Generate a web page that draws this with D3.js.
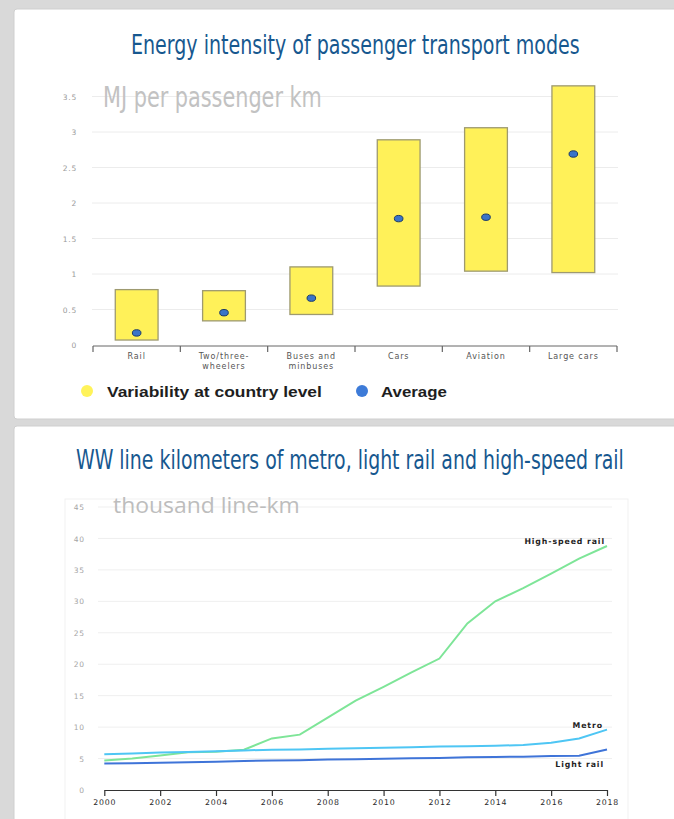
<!DOCTYPE html>
<html><head><meta charset="utf-8">
<script src="https://cdn.jsdelivr.net/npm/d3@7"></script>
<style>body{margin:0;background:#fff}svg{display:block}</style>
</head><body><svg id="c" width="674" height="819"></svg>
<script>
// ---------- data: chart 1 ----------
const modes = ["Rail","Two/three-wheelers","Buses and minbuses","Cars","Aviation","Large cars"];
const modeLabels = [["Rail"],["Two/three-","wheelers"],["Buses and","minbuses"],["Cars"],["Aviation"],["Large cars"]];
const rangeLow  = [0.07, 0.34, 0.43, 0.83, 1.04, 1.02];
const rangeHigh = [0.78, 0.765, 1.10, 2.89, 3.06, 3.65];
const average   = [0.17, 0.455, 0.66, 1.78, 1.80, 2.69];
const energyTicks = [0, 0.5, 1, 1.5, 2, 2.5, 3, 3.5];
const energyTickLabels = ["0","0.5","1","1.5","2","2.5","3","3.5"];
// ---------- data: chart 2 ----------
const years = [2000,2001,2002,2003,2004,2005,2006,2007,2008,2009,2010,2011,2012,2013,2014,2015,2016,2017,2018];
const highSpeed = [4.7,5.0,5.5,6.0,6.1,6.4,8.2,8.8,11.5,14.2,16.4,18.7,20.9,26.5,30.0,32.1,34.4,36.8,38.8];
const metro     = [5.7,5.8,5.95,6.05,6.15,6.3,6.4,6.45,6.55,6.65,6.7,6.8,6.9,6.95,7.05,7.15,7.5,8.2,9.6];
const lightRail = [4.2,4.27,4.35,4.4,4.5,4.6,4.7,4.75,4.85,4.9,4.95,5.05,5.1,5.2,5.25,5.3,5.4,5.45,6.45];
const yearTicks = [2000,2002,2004,2006,2008,2010,2012,2014,2016,2018];
const kmTicks = [0,5,10,15,20,25,30,35,40,45];
const seriesNames = ["High-speed rail","Metro","Light rail"];

const svg = d3.select("#c");
// background panels
svg.append("rect").attr("width",674).attr("height",819).attr("fill","#d9d9d9");
svg.append("rect").attr("x",14).attr("y",9).attr("width",670).attr("height",410).attr("rx",3)
  .attr("fill","#fff").attr("stroke","#cfcfcf");
svg.append("rect").attr("x",14).attr("y",426).attr("width",670).attr("height",400).attr("rx",3)
  .attr("fill","#fff").attr("stroke","#cfcfcf");

const narrow = "'Liberation Sans Narrow','Arial Narrow','DejaVu Sans Condensed',sans-serif";
const small = "'DejaVu Sans',sans-serif";

// text stretched horizontally to a given width via a transform
function fitText(parent, x, y, target, anchor, str, attrs){
  const g = parent.append("g");
  const t = g.append("text").attr("x",0).attr("y",0).text(str);
  Object.entries(attrs).forEach(([k,v])=>t.attr(k,v));
  const w = t.node().getComputedTextLength();
  const sx = target / w;
  const x0 = anchor==="middle" ? x - target/2 : x;
  g.attr("transform",`translate(${x0},${y}) scale(${sx},1)`);
  return t;
}

// ================= Chart 1 =================
const g1 = svg.append("g");
fitText(g1, 355.5, 54, 449, "middle", "Energy intensity of passenger transport modes",
  {"font-family":narrow,"font-size":26.5,"fill":"#17588f"});

const x1 = d3.scaleBand().domain(modes).range([93,617]).paddingInner(0).paddingOuter(0);
const y1 = d3.scaleLinear().domain([0,3.5]).range([345,96.5]);

// grid
g1.selectAll(".g1grid").data(energyTicks.filter(d=>d>0)).join("line")
  .attr("x1",92).attr("x2",618).attr("y1",d=>y1(d)).attr("y2",d=>y1(d))
  .attr("stroke","#ececec").attr("stroke-width",1);

// unit label
fitText(g1, 103, 106.5, 219, "start", "MJ per passenger km",
  {"font-family":narrow,"font-size":27.5,"fill":"#c2c2c2"});

// y axis labels
const ay1 = d3.axisLeft(y1).tickValues(energyTicks).tickFormat((d,i)=>energyTickLabels[i]).tickSize(0).tickPadding(0);
const gy1 = g1.append("g").attr("transform","translate(77,0)").call(ay1);
gy1.select(".domain").remove();
gy1.selectAll("text").attr("font-family",small).attr("font-size",7.5).attr("fill","#9a9a9a")
  .attr("letter-spacing",0.8).attr("dy","0.35em");

// x axis
const ax1 = d3.axisBottom(x1).tickSize(0).tickFormat("");
const gx1 = g1.append("g").attr("transform","translate(0,346)").call(ax1);
gx1.select(".domain").attr("stroke","#666").attr("d","M93,0H617");
const edges = modes.map(m=>x1(m)).concat([x1.range()[1]]);
g1.selectAll(".tk").data(edges).join("line")
  .attr("x1",d=>d).attr("x2",d=>d).attr("y1",346).attr("y2",352)
  .attr("stroke","#666").attr("stroke-width",1.2);
modes.forEach((m,i)=>{
  const t = g1.append("text").attr("text-anchor","middle")
    .attr("font-family",small).attr("font-size",8).attr("fill","#555").attr("letter-spacing",0.9);
  modeLabels[i].forEach((l,j)=>{
    t.append("tspan").attr("x",x1(m)+x1.bandwidth()/2).attr("y",359+j*9.5).text(l);
  });
});

// bars
const bw = x1.bandwidth()*0.49;
g1.selectAll(".bar").data(modes).join("rect")
  .attr("x",d=>x1(d)+x1.bandwidth()/2-bw/2)
  .attr("width",bw)
  .attr("y",(d,i)=>y1(rangeHigh[i]))
  .attr("height",(d,i)=>y1(rangeLow[i])-y1(rangeHigh[i]))
  .attr("fill","#fff159").attr("stroke","#9e9a70").attr("stroke-width",1.3);
// averages
g1.selectAll(".avg").data(modes).join("ellipse")
  .attr("cx",d=>x1(d)+x1.bandwidth()/2)
  .attr("cy",(d,i)=>y1(average[i]))
  .attr("rx",4.3).attr("ry",3.2)
  .attr("fill","#3a74c8").attr("stroke","#1c3a66").attr("stroke-width",1);

// legend
const lg = g1.append("g");
lg.append("circle").attr("cx",87).attr("cy",391).attr("r",6).attr("fill","#fff35a");
fitText(lg, 107, 396.5, 215, "start", "Variability at country level",
  {"font-family":"'Liberation Sans',Arial,sans-serif","font-weight":"bold","font-size":15,"fill":"#1e1e1e"});
lg.append("circle").attr("cx",362).attr("cy",391).attr("r",6).attr("fill","#3d7bd8");
fitText(lg, 381, 396.5, 66, "start", "Average",
  {"font-family":"'Liberation Sans',Arial,sans-serif","font-weight":"bold","font-size":15,"fill":"#1e1e1e"});

// ================= Chart 2 =================
const g2 = svg.append("g");
fitText(g2, 350, 469, 548, "middle", "WW line kilometers of metro, light rail and high-speed rail",
  {"font-family":narrow,"font-size":26.5,"fill":"#17588f"});

// faint plot box
g2.append("rect").attr("x",65).attr("y",499).attr("width",563).attr("height",330)
  .attr("fill","none").attr("stroke","#f1f1f1");

const x2 = d3.scaleLinear().domain([2000,2018]).range([104.3,607]);
const y2 = d3.scaleLinear().domain([0,45]).range([790,507]);

g2.selectAll(".g2grid").data(kmTicks.filter(d=>d>0)).join("line")
  .attr("x1",98).attr("x2",612).attr("y1",d=>y2(d)).attr("y2",d=>y2(d))
  .attr("stroke","#efefef").attr("stroke-width",1);

fitText(g2, 113, 512.5, 187, "start", "thousand line-km",
  {"font-family":"'Open Sans',sans-serif","font-size":21,"fill":"#bdbdbd"});

const ay2 = d3.axisLeft(y2).tickValues(kmTicks).tickFormat(d3.format("d")).tickSize(0).tickPadding(0);
const gy2 = g2.append("g").attr("transform","translate(85,0)").call(ay2);
gy2.select(".domain").remove();
gy2.selectAll("text").attr("font-family",small).attr("font-size",7.5).attr("fill","#a5a5a5")
  .attr("letter-spacing",0.9).attr("dy","0.35em");

const ax2 = d3.axisBottom(x2).tickValues(yearTicks).tickFormat(d3.format("d")).tickSize(6).tickSizeOuter(0).tickPadding(3);
const gx2 = g2.append("g").attr("transform","translate(0,790)").call(ax2);
gx2.select(".domain").attr("stroke","#333").attr("stroke-width",1.1);
gx2.selectAll(".tick line").attr("stroke","#333").attr("stroke-width",1.2);
gx2.selectAll("text").attr("font-family",small).attr("font-size",7.8).attr("fill","#2a2a2a")
  .attr("letter-spacing",0.8);

const line = d3.line().x((d,i)=>x2(years[i])).y(d=>y2(d));
const seriesData = [highSpeed, metro, lightRail];
const seriesColors = ["#7ee598","#4ec6f4","#3f74d8"];
g2.selectAll(".ln").data(seriesData).join("path")
  .attr("d",d=>line(d)).attr("fill","none")
  .attr("stroke",(d,i)=>seriesColors[i]).attr("stroke-width",2);

const labelPos = [[605,544],[603,728],[604,767]];
seriesNames.forEach((n,i)=>{
  g2.append("text").attr("x",labelPos[i][0]).attr("y",labelPos[i][1]).attr("text-anchor","end")
    .attr("font-family",small).attr("font-weight","bold").attr("font-size",7.8).attr("fill","#1f1f1f")
    .attr("letter-spacing",0.9).text(n);
});
</script></body></html>
